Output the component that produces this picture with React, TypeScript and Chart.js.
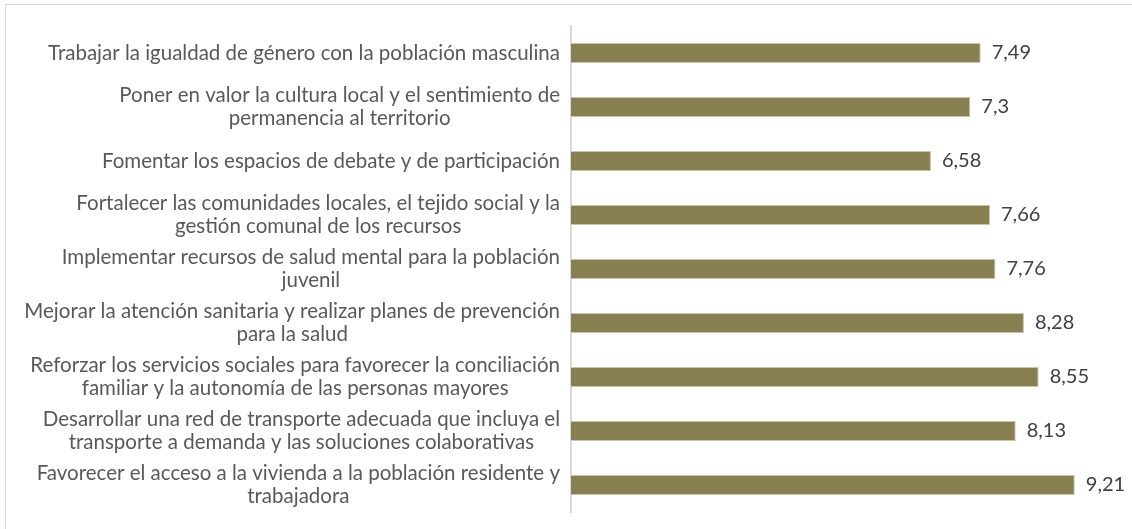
import React, { useEffect, useRef } from "react";
import { Chart, registerables } from "chart.js";

Chart.register(...registerables);

const categories: string[][] = [
  ["Trabajar la igualdad de género con la población masculina"],
  ["Poner en valor la cultura local y el sentimiento de", "permanencia al territorio"],
  ["Fomentar los espacios de debate y de participación"],
  ["Fortalecer las comunidades locales, el tejido social y la", "gestión comunal de los recursos"],
  ["Implementar recursos de salud mental para la población", "juvenil"],
  ["Mejorar la atención sanitaria y realizar planes de prevención", "para la salud"],
  ["Reforzar los servicios sociales para favorecer la conciliación", "familiar y la autonomía de las personas mayores"],
  ["Desarrollar una red de transporte adecuada que incluya el", "transporte a demanda y las soluciones colaborativas"],
  ["Favorecer el acceso a la vivienda a la población residente y", "trabajadora"],
];

const values: number[] = [7.49, 7.3, 6.58, 7.66, 7.76, 8.28, 8.55, 8.13, 9.21];

const xMin = 0;
const xMax = 10;

const FONT_FAMILY = "Lato, 'Open Sans', sans-serif";
const LABEL_SIZE = 20.5;
const LABEL_LINE = 23.5;
const VALUE_SIZE = 20;

const labelsPlugin = {
  id: "customLabels",
  beforeDraw(chart: any) {
    const ctx = chart.ctx;
    ctx.save();
    ctx.strokeStyle = "#d9d9d9";
    ctx.lineWidth = 1;
    ctx.strokeRect(5.5, 4.5, 1400, 800);
    ctx.restore();
  },
  afterDraw(chart: any) {
    const ctx = chart.ctx;
    const yScale = chart.scales.y;
    const xScale = chart.scales.x;
    const area = chart.chartArea;
    ctx.save();
    // category labels
    ctx.font = `${LABEL_SIZE}px ${FONT_FAMILY}`;
    ctx.fillStyle = "#595959";
    ctx.textAlign = "center";
    ctx.textBaseline = "middle";
    categories.forEach((lines, i) => {
      const cy = yScale.getPixelForValue(i);
      const w = Math.max(...lines.map((l) => ctx.measureText(l).width));
      const right = area.left - 11;
      const cx = right - w / 2;
      const startY = cy - ((lines.length - 1) * LABEL_LINE) / 2;
      lines.forEach((l, j) => {
        ctx.fillText(l, cx, startY + j * LABEL_LINE);
      });
    });
    // value labels
    ctx.font = `${VALUE_SIZE}px ${FONT_FAMILY}`;
    ctx.fillStyle = "#404040";
    ctx.textAlign = "left";
    values.forEach((v, i) => {
      const cy = yScale.getPixelForValue(i);
      const x = xScale.getPixelForValue(v) + 11;
      ctx.fillText(String(v).replace(".", ","), x, cy);
    });
    ctx.restore();
  },
};

export default function App() {
  const canvasRef = useRef<HTMLCanvasElement | null>(null);

  useEffect(() => {
    if (!canvasRef.current) return;
    const chart = new Chart(canvasRef.current, {
      type: "bar",
      data: {
        labels: categories.map((c) => c.join(" ")),
        datasets: [
          {
            data: values,
            backgroundColor: "#877f4f",
            borderColor: "#cbc6a8",
            borderWidth: 1,
            borderSkipped: "start",
            categoryPercentage: 1,
            barPercentage: 0.37,
          },
        ],
      },
      options: {
        indexAxis: "y",
        animation: false,
        responsive: false,
        maintainAspectRatio: false,
        layout: { padding: { top: 26, bottom: 17, left: 0, right: 14 } },
        plugins: {
          legend: { display: false },
          tooltip: { enabled: false },
        },
        scales: {
          x: {
            display: false,
            min: xMin,
            max: xMax,
          },
          y: {
            display: true,
            ticks: { display: false },
            grid: { display: false },
            border: { display: true, color: "#d9d9d9", width: 2 },
            afterFit: (scale: any) => {
              scale.width = 571;
            },
          },
        },
      },
      plugins: [labelsPlugin],
    });
    return () => chart.destroy();
  }, []);

  return (
    <div style={{ position: "fixed", left: 0, top: 0, width: 1132, height: 529, background: "#fff" }}>
      <canvas ref={canvasRef} width={1132} height={529} style={{ display: "block" }} />
    </div>
  );
}
